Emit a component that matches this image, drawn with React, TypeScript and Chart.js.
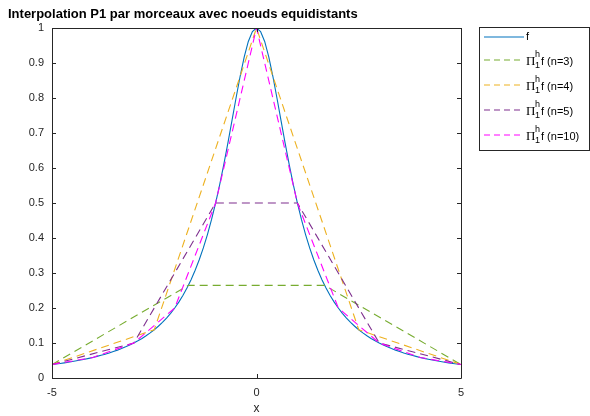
import React, { useEffect, useRef } from "react";
import { Chart, registerables } from "chart.js";
Chart.register(...registerables);

const titleText = "Interpolation P1 par morceaux avec noeuds equidistants";
const xAxisLabel = "x";
const xTicks = [-5, 0, 5];
const yTicks = [0, 0.1, 0.2, 0.3, 0.4, 0.5, 0.6, 0.7, 0.8, 0.9, 1];

const fX = [
  -5, -4.9, -4.8, -4.7, -4.6, -4.5, -4.4, -4.3, -4.2, -4.1,
  -4, -3.9, -3.8, -3.7, -3.6, -3.5, -3.4, -3.3, -3.2, -3.1,
  -3, -2.9, -2.8, -2.7, -2.6, -2.5, -2.4, -2.3, -2.2, -2.1,
  -2, -1.9, -1.8, -1.7, -1.6, -1.5, -1.4, -1.3, -1.2, -1.1,
  -1, -0.9, -0.8, -0.7, -0.6, -0.5, -0.4, -0.3, -0.2, -0.1,
  0,
  0.1, 0.2, 0.3, 0.4, 0.5, 0.6, 0.7, 0.8, 0.9, 1,
  1.1, 1.2, 1.3, 1.4, 1.5, 1.6, 1.7, 1.8, 1.9, 2,
  2.1, 2.2, 2.3, 2.4, 2.5, 2.6, 2.7, 2.8, 2.9, 3,
  3.1, 3.2, 3.3, 3.4, 3.5, 3.6, 3.7, 3.8, 3.9, 4,
  4.1, 4.2, 4.3, 4.4, 4.5, 4.6, 4.7, 4.8, 4.9, 5,
];
const fY = [
  0.0385, 0.0400, 0.0416, 0.0433, 0.0451, 0.0471, 0.0491, 0.0513, 0.0536, 0.0561,
  0.0588, 0.0617, 0.0648, 0.0681, 0.0716, 0.0755, 0.0796, 0.0841, 0.0890, 0.0943,
  0.1000, 0.1063, 0.1131, 0.1206, 0.1289, 0.1379, 0.1479, 0.1590, 0.1712, 0.1848,
  0.2000, 0.2169, 0.2358, 0.2571, 0.2809, 0.3077, 0.3378, 0.3717, 0.4098, 0.4525,
  0.5000, 0.5525, 0.6098, 0.6711, 0.7353, 0.8000, 0.8621, 0.9174, 0.9615, 0.9901,
  1.0000,
  0.9901, 0.9615, 0.9174, 0.8621, 0.8000, 0.7353, 0.6711, 0.6098, 0.5525, 0.5000,
  0.4525, 0.4098, 0.3717, 0.3378, 0.3077, 0.2809, 0.2571, 0.2358, 0.2169, 0.2000,
  0.1848, 0.1712, 0.1590, 0.1479, 0.1379, 0.1289, 0.1206, 0.1131, 0.1063, 0.1000,
  0.0943, 0.0890, 0.0841, 0.0796, 0.0755, 0.0716, 0.0681, 0.0648, 0.0617, 0.0588,
  0.0561, 0.0536, 0.0513, 0.0491, 0.0471, 0.0451, 0.0433, 0.0416, 0.0400, 0.0385,
];

const n3X = [-5, -1.6667, 1.6667, 5];
const n3Y = [0.0385, 0.2647, 0.2647, 0.0385];
const n4X = [-5, -2.5, 0, 2.5, 5];
const n4Y = [0.0385, 0.1379, 1, 0.1379, 0.0385];
const n5X = [-5, -3, -1, 1, 3, 5];
const n5Y = [0.0385, 0.1, 0.5, 0.5, 0.1, 0.0385];
const n10X = [-5, -4, -3, -2, -1, 0, 1, 2, 3, 4, 5];
const n10Y = [0.0385, 0.0588, 0.1, 0.2, 0.5, 1, 0.5, 0.2, 0.1, 0.0588, 0.0385];

const seriesNames = ["f", "f (n=3)", "f (n=4)", "f (n=5)", "f (n=10)"];
const seriesColors = ["#0072BD", "#77AC30", "#EDB120", "#7E2F8E", "#FF00FF"];
const DASH = [8, 5];

const pts = (xs: number[], ys: number[]) => xs.map((x, i) => ({ x, y: ys[i] }));

const AXIS = "#262626";
const SANS = "'Liberation Sans', Arial, sans-serif";

const framePlugin = {
  id: "frame",
  afterDraw(chart: any) {
    const { ctx, chartArea } = chart;
    const { left, right, top, bottom } = chartArea;
    const xs = chart.scales.x;
    const ys = chart.scales.y;
    ctx.save();
    ctx.setLineDash([]);
    ctx.strokeStyle = AXIS;
    ctx.lineWidth = 1;
    ctx.beginPath();
    ctx.rect(Math.round(left) + 0.5, Math.round(top) + 0.5, Math.round(right - left), Math.round(bottom - top));
    ctx.stroke();
    const tl = 4;
    ctx.beginPath();
    xTicks.forEach((v) => {
      const px = Math.round(xs.getPixelForValue(v)) + 0.5;
      ctx.moveTo(px, bottom);
      ctx.lineTo(px, bottom - tl);
      ctx.moveTo(px, top);
      ctx.lineTo(px, top + tl);
    });
    yTicks.forEach((v) => {
      const py = Math.round(ys.getPixelForValue(v)) + 0.5;
      ctx.moveTo(left, py);
      ctx.lineTo(left + tl, py);
      ctx.moveTo(right, py);
      ctx.lineTo(right - tl, py);
    });
    ctx.stroke();

    // title
    ctx.fillStyle = "#000";
    ctx.font = "bold 13px " + SANS;
    ctx.textBaseline = "alphabetic";
    ctx.textAlign = "left";
    ctx.fillText(titleText, 8, 18);

    // legend
    const lx = 479.5, ly = 27.5, lw = 110, lh = 123;
    ctx.fillStyle = "#fff";
    ctx.fillRect(lx, ly, lw, lh);
    ctx.strokeStyle = AXIS;
    ctx.lineWidth = 1;
    ctx.strokeRect(lx, ly, lw, lh);
    const rowY = [37, 60, 85, 110, 135];
    seriesNames.forEach((name, i) => {
      const y = rowY[i];
      ctx.save();
      ctx.strokeStyle = seriesColors[i];
      ctx.lineWidth = 1.2;
      ctx.setLineDash(i === 0 ? [] : [6, 4]);
      ctx.beginPath();
      ctx.moveTo(484, y);
      ctx.lineTo(524, y);
      ctx.stroke();
      ctx.restore();
      ctx.fillStyle = "#000";
      ctx.textBaseline = "middle";
      if (i === 0) {
        ctx.font = "11px " + SANS;
        ctx.fillText(name, 526, y);
      } else {
        ctx.font = "13px 'Liberation Serif', 'DejaVu Serif', serif";
        ctx.fillText("\u03A0", 526, y + 2);
        ctx.font = "9px " + SANS;
        ctx.fillText("h", 535, y - 5);
        ctx.fillText("1", 535, y + 6);
        ctx.font = "11px " + SANS;
        ctx.fillText(name, 541, y + 2);
      }
    });
    ctx.restore();
  },
};

export default function App() {
  const ref = useRef<HTMLCanvasElement>(null);
  useEffect(() => {
    document.body.style.margin = "0";
    const mk = (i: number, data: any[]) => ({
      label: seriesNames[i],
      data,
      borderColor: seriesColors[i],
      backgroundColor: seriesColors[i],
      borderWidth: 1.1,
      borderDash: i === 0 ? [] : DASH,
      pointRadius: 0,
      fill: false,
      tension: 0,
    });
    const chart = new Chart(ref.current!, {
      type: "line",
      data: {
        datasets: [
          mk(4, pts(n10X, n10Y)),
          mk(3, pts(n5X, n5Y)),
          mk(2, pts(n4X, n4Y)),
          mk(1, pts(n3X, n3Y)),
          mk(0, pts(fX, fY)),
        ],
      },
      options: {
        animation: false,
        responsive: false,
        layout: { padding: { top: 28, right: 129, bottom: 0, left: 0 } },
        plugins: { legend: { display: false }, tooltip: { enabled: false }, title: { display: false } },
        scales: {
          x: {
            type: "linear",
            min: -5,
            max: 5,
            afterFit: (s: any) => { s.height = 38; },
            afterBuildTicks: (s: any) => { s.ticks = xTicks.map((v) => ({ value: v })); },
            grid: { display: false, drawTicks: false },
            border: { display: false },
            ticks: { color: AXIS, font: { size: 11, family: SANS }, padding: 8, callback: (v: any) => String(Math.round(Number(v) * 10) / 10) },
            title: { display: true, text: xAxisLabel, color: AXIS, font: { size: 12, family: SANS }, padding: { top: 3, bottom: 0 } },
          },
          y: {
            type: "linear",
            min: 0,
            max: 1,
            afterFit: (s: any) => { s.width = 52; },
            afterBuildTicks: (s: any) => { s.ticks = yTicks.map((v) => ({ value: v })); },
            grid: { display: false, drawTicks: false },
            border: { display: false },
            ticks: { color: AXIS, font: { size: 11, family: SANS }, padding: 8, callback: (v: any) => String(Math.round(Number(v) * 10) / 10) },
          },
        },
      },
      plugins: [framePlugin],
    } as any);
    return () => chart.destroy();
  }, []);
  return (
    <div style={{ width: 590, height: 416 }}>
      <canvas ref={ref} width={590} height={416} />
    </div>
  );
}
